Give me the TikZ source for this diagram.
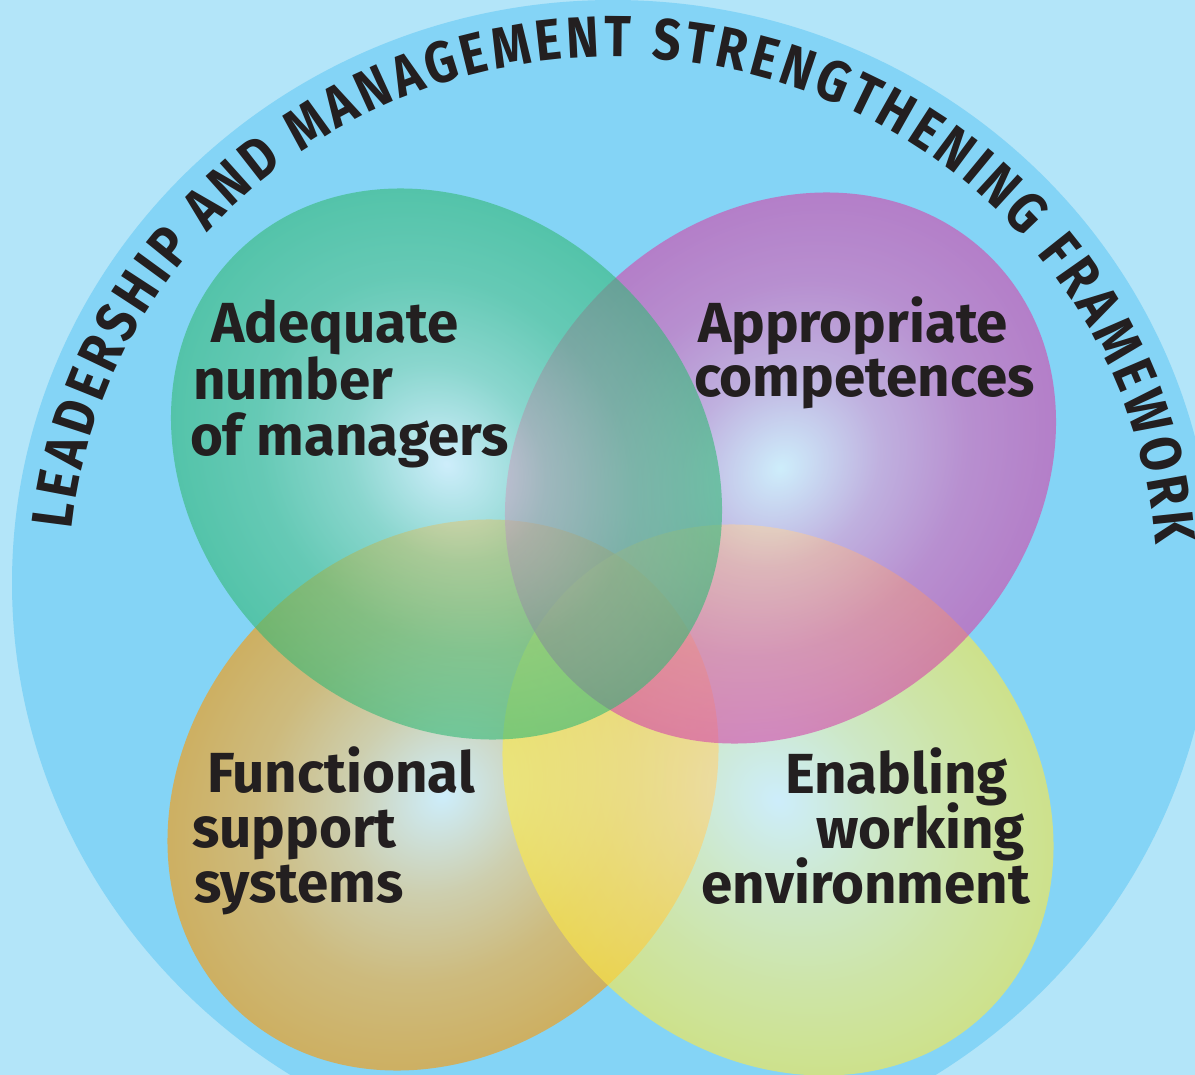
\documentclass[tikz,border=0pt]{standalone}
\usepackage{fontspec}
\setmainfont{Fira Sans}
\newfontfamily\arcfont{Fira Sans}[FakeStretch=0.85]
\usetikzlibrary{decorations.text}

\definecolor{bgblue}{RGB}{179,229,249}
\definecolor{ringblue}{RGB}{132,212,246}
\definecolor{gedge}{RGB}{52,185,119}
\definecolor{pedge}{RGB}{212,70,170}
\definecolor{oedge}{RGB}{255,152,0}
\definecolor{yedge}{RGB}{254,235,69}
\definecolor{txt}{RGB}{35,31,32}

\pgfdeclareradialshading{gsh}{\pgfpoint{0bp}{0bp}}{color(0bp)=(white); color(9bp)=(gedge!55!white); color(17bp)=(gedge!85!white); color(25bp)=(gedge); color(50bp)=(gedge)}
\pgfdeclareradialshading{psh}{\pgfpoint{0bp}{0bp}}{color(0bp)=(white); color(9bp)=(pedge!55!white); color(17bp)=(pedge!85!white); color(25bp)=(pedge); color(50bp)=(pedge)}
\pgfdeclareradialshading{osh}{\pgfpoint{0bp}{0bp}}{color(0bp)=(white); color(9bp)=(oedge!50!white); color(17bp)=(oedge!82!white); color(25bp)=(oedge); color(50bp)=(oedge)}
\pgfdeclareradialshading{ysh}{\pgfpoint{0bp}{0bp}}{color(0bp)=(white); color(9bp)=(yedge!45!white); color(17bp)=(yedge!75!white); color(25bp)=(yedge); color(50bp)=(yedge)}

\newcommand\vennshade[3]{%
  \begin{scope}[transform canvas={shift={#1}, rotate=#2}]
    \shade[shading=#3, opacity=0.6] (0,0) ellipse [x radius=297.6pt, y radius=251.5pt];
  \end{scope}}

\tikzset{
  lbl/.style={inner sep=0pt, outer sep=0pt, text=txt, font=\fontsize{56.5}{56.5}\selectfont\bfseries},
}

\begin{document}
\begin{tikzpicture}[x=1pt, y=-1pt]
  \useasboundingbox (0,0) rectangle (1195,1075);
  \clip (0,0) rectangle (1195,1075);
  \fill[bgblue] (0,0) rectangle (1195,1075);
  \fill[ringblue] (613,583) ellipse [x radius=601, y radius=583];

  % coloured ellipses (bottom ones first)
  \vennshade{(443,795)}{45}{osh}
  \vennshade{(778,800)}{-45}{ysh}
  \vennshade{(780.5,468)}{45}{psh}
  \vennshade{(446.5,464)}{-45}{gsh}

  % title along the ring
  \path[decorate, decoration={text along path, text align={fit to path},
      text={|\arcfont\bfseries\fontsize{58}{58}\selectfont\color{txt}|LEADERSHIP AND MANAGEMENT STRENGTHENING FRAMEWORK}}]
    (613,583) ++(185.8:544 and 526) arc[start angle=185.8, end angle=355.8, x radius=544, y radius=526];

  % labels
  \node[lbl, anchor=base west] (adq1) at (211,343) {Adequate};
  \node[lbl, anchor=base west] (adq2) at (193,400) {number};
  \node[lbl, anchor=base west] (adq3) at (190,455) {of managers};

  \node[lbl, anchor=base west] (app1) at (698,343) {Appropriate};
  \node[lbl, anchor=base west] (app2) at (694,397) {competences};

  \node[lbl, anchor=base west] (fun1) at (207,792) {Functional};
  \node[lbl, anchor=base west] (fun2) at (192,847) {support};
  \node[lbl, anchor=base west] (fun3) at (194,902) {systems};

  \node[lbl, anchor=base east] (ena1) at (1008,793) {Enabling};
  \node[lbl, anchor=base east] (ena2) at (1025,848) {working};
  \node[lbl, anchor=base east] (ena3) at (1030,903) {environment};
\end{tikzpicture}
\end{document}
